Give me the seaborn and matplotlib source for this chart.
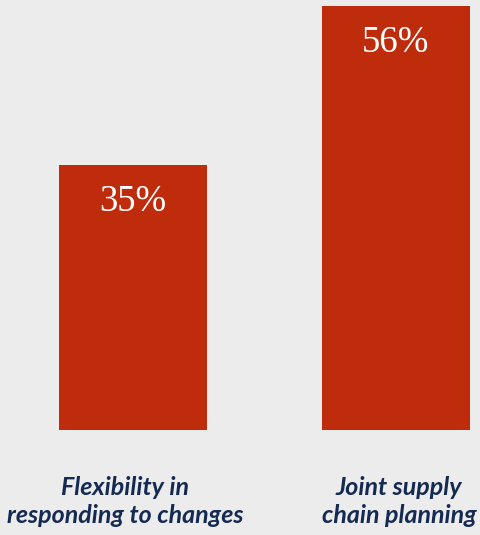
import matplotlib
matplotlib.use("Agg")
import matplotlib.pyplot as plt
import matplotlib.transforms as mtransforms
from matplotlib.font_manager import FontProperties
import seaborn as sns
import pandas as pd

categories = ["Flexibility in\nresponding to changes", "Joint supply\nchain planning"]
values = [35, 56]
value_labels = ["35%", "56%"]

BG = "#ececec"
BAR = "#bf2c0c"
NAVY = "#142a52"

sns.set_theme(style="white")
plt.rcParams["font.family"] = ["Lato", "DejaVu Sans"]

df = pd.DataFrame({"cat": categories, "val": values})

fig = plt.figure(figsize=(4.81, 5.35), dpi=100, facecolor=BG)
ax = fig.add_axes([0, 105 / 535, 1, 430 / 535])
ax.set_facecolor(BG)

sns.barplot(data=df, x="cat", y="val", color=BAR, saturation=1, width=148 / 263,
            linewidth=0, edgecolor=BAR, ax=ax)

ax.set_xlim(-133 / 263, (481 - 133) / 263)
ax.set_ylim(0, 430 / (265 / 35))

serif = FontProperties(family="Liberation Serif", size=26.5)
for i, (v, lab) in enumerate(zip(values, value_labels)):
    ax.annotate(lab, xy=(i, v), xytext=(0, -46 * 0.72), textcoords="offset points",
                ha="center", va="baseline", color="white", fontproperties=serif)

ax.set_xlabel("")
ax.set_ylabel("")
ax.set_yticks([])
ax.tick_params(axis="x", length=0, pad=33)
for s in ax.spines.values():
    s.set_visible(False)

offsets = [-8, 3]
for lbl, dx in zip(ax.get_xticklabels(), offsets):
    lbl.set_fontstyle("italic")
    lbl.set_fontweight("bold")
    lbl.set_fontsize(18)
    lbl.set_color(NAVY)
    lbl.set_linespacing(1.25)
    lbl.set_transform(lbl.get_transform() + mtransforms.ScaledTranslation(dx / 100, 0, fig.dpi_scale_trans))

fig.savefig("out.png", dpi=100, facecolor=BG)
